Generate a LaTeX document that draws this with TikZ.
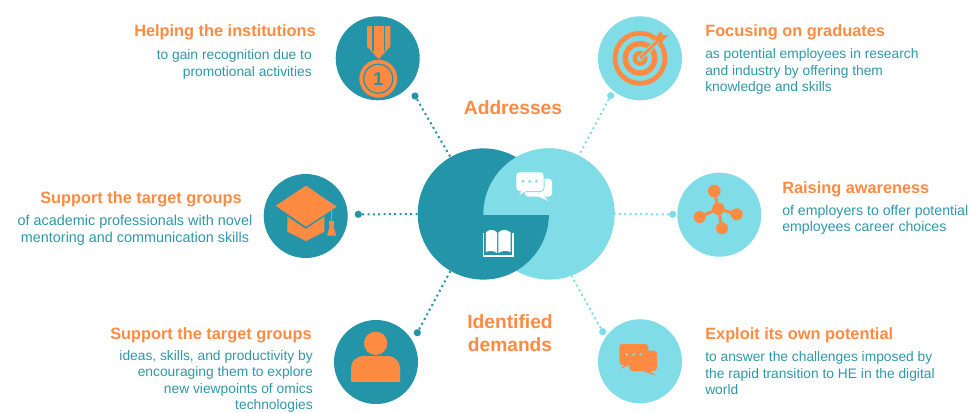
\documentclass[tikz,border=0pt]{standalone}
\usepackage{fontspec}
\setmainfont{Liberation Sans}
\definecolor{tealdark}{HTML}{2495A8}
\definecolor{teallight}{HTML}{80DCE6}
\definecolor{accent}{HTML}{FF8A42}
\definecolor{bodyteal}{HTML}{2E98A8}
\tikzset{
    maincircle/.style={circle,minimum size=98.4pt,inner sep=0pt},
    iconcircle/.style={circle,minimum size=63pt,inner sep=0pt},
    enddot/.style={circle,minimum size=5.4pt,inner sep=0pt},
    dotline/.style={line width=1.5pt,dash pattern=on 1.5pt off 2.5pt},
    titletext/.style={text=accent,font=\fontsize{12.25}{14}\selectfont\bfseries,inner sep=0pt},
    bodytext/.style={text=bodyteal,font=\fontsize{10.35}{12.4}\selectfont,inner sep=0pt},
    headtext/.style={text=accent,font=\fontsize{14.4}{17.2}\selectfont\bfseries,inner sep=0pt,align=center},
}
\begin{document}
\begin{tikzpicture}[x=0.75pt,y=-0.75pt]
    \useasboundingbox (0,0) rectangle (971,412);
    % centre
    \node[maincircle,fill=teallight] (light) at (549,214) {};
    \node[maincircle,fill=tealdark] (dark) at (483.3,214) {};
    \begin{scope}
        \clip (480,140) rectangle (620,214);
        \fill[teallight] (549,214) circle (65.6);
    \end{scope}
    % round icons
    \node[iconcircle,fill=tealdark] (medal) at (377.7,58.3) {};
    \node[iconcircle,fill=teallight] (target) at (640,58.3) {};
    \node[iconcircle,fill=tealdark] (cap) at (305.7,216) {};
    \node[iconcircle,fill=teallight] (network) at (719.3,214.7) {};
    \node[iconcircle,fill=tealdark] (person) at (376,362) {};
    \node[iconcircle,fill=teallight] (chat) at (640,361.3) {};
    % end dots
    \node[enddot,fill=tealdark] (medaldot) at (415,96) {};
    \node[enddot,fill=teallight] (targetdot) at (610.7,95.7) {};
    \node[enddot,fill=tealdark] (capdot) at (358.3,214.3) {};
    \node[enddot,fill=teallight] (networkdot) at (672.7,214.3) {};
    \node[enddot,fill=tealdark] (persondot) at (417.3,332.7) {};
    \node[enddot,fill=teallight] (chatdot) at (602.7,331.7) {};
    % connectors
    \draw[dotline,tealdark] (medaldot) -- (dark.120);
    \draw[dotline,tealdark] (capdot) -- (dark);
    \draw[dotline,tealdark] (persondot) -- (dark.240);
    \draw[dotline,teallight] (targetdot) -- (light.63);
    \draw[dotline,teallight] (networkdot) -- (light);
    \draw[dotline,teallight] (chatdot) -- (light.-70);
    % medal
    \fill[accent] (367,26) -- (390.3,26) -- (390.3,46.5) -- (378.7,59) -- (367,46.5) -- cycle;
    \fill[tealdark] (372,26) rectangle (373.7,51);
    \fill[tealdark] (383.7,26) rectangle (385.4,51);
    \fill[accent] (378.3,78.7) circle (19);
    \draw[tealdark,line width=0.9pt] (378.3,78.7) circle (14.5);
    \node[inner sep=0pt,text=tealdark,font=\fontsize{14}{14}\selectfont\bfseries] (medalnum) at (378.3,78.7) {1};
    % target
    \fill[accent] (640,58.3) circle (27.4);
    \fill[teallight] (640,58.3) circle (22.5);
    \fill[accent] (640,58.3) circle (17.5);
    \fill[teallight] (640,58.3) circle (12);
    \fill[accent] (640,58.3) circle (7.5);
    \fill[teallight] (640,58.3) circle (3);
    \draw[teallight,line width=3.6pt] (642,56.3) -- (660,38.5);
    \draw[accent,line width=2pt] (640,58.3) -- (660,38.5);
    \fill[accent] (655,38) -- (661,31) -- (662.5,35) -- (668.3,35) -- (662,42) -- (658,42.5) -- cycle;
    % graduation cap
    \fill[accent] (287.3,215.7) -- (306,228) -- (324.3,215.7) -- (324.3,231.7) -- (306,241) -- (287.3,231.7) -- cycle;
    \draw[tealdark,line width=0.9pt] (287.3,215.7) -- (306,228) -- (324.3,215.7);
    \fill[accent] (275.7,205.7) -- (306,185.7) -- (336.7,206.7) -- (306,226.7) -- cycle;
    \draw[accent,line width=0.8pt] (331.7,208) -- (331.7,222);
    \fill[accent] (329,221) rectangle (334.3,225.5);
    \fill[accent] (330,225) -- (333.3,225) -- (336,235.7) -- (327,235.7) -- cycle;
    % network
    \draw[accent,line width=2.2pt] (718.3,208.7) -- (714.3,191);
    \draw[accent,line width=2.2pt] (718.3,208.7) -- (699.7,217);
    \draw[accent,line width=2.2pt] (718.3,208.7) -- (736.7,214.3);
    \draw[accent,line width=2.2pt] (718.3,208.7) -- (722,228.3);
    \fill[accent] (718.3,208.7) circle (6.2);
    \fill[accent] (714.3,191) circle (6.3);
    \fill[accent] (699.7,217) circle (6);
    \fill[accent] (736.7,214.3) circle (6);
    \fill[accent] (722,228.3) circle (6);
    % person
    \fill[accent] (375.7,343.3) circle (11.7);
    \begin{scope}
        \clip (351,356) rectangle (400,381);
        \fill[accent,rounded corners=9pt] (351,356) rectangle (400,400);
    \end{scope}
    % orange speech bubbles
    \fill[accent,rounded corners=2.5pt] (629.3,350.7) rectangle (657,371);
    \fill[accent] (640,370) -- (656,375.7) -- (648,370) -- cycle;
    \fill[accent,rounded corners=2.5pt] (619.3,344) rectangle (648.3,365);
    \fill[accent] (632,364) -- (619.3,369) -- (626,364) -- cycle;
    \fill[teallight] (626.7,354.3) circle (1.5);
    \fill[teallight] (633.7,354.3) circle (1.5);
    \fill[teallight] (640.7,354.3) circle (1.5);
    % white speech bubbles
    \fill[white,rounded corners=2.5pt] (525,178.7) rectangle (552,196.7);
    \fill[white] (537,196) -- (548.3,201) -- (544,196) -- cycle;
    \fill[teallight,rounded corners=3pt] (515.5,171.5) rectangle (544.5,192);
    \fill[white,rounded corners=2.5pt] (516.3,172.3) rectangle (543.7,191);
    \fill[white] (528,190) -- (519.3,195) -- (522,190) -- cycle;
    \fill[teallight] (523,181.3) circle (1.6);
    \fill[teallight] (529.7,181.3) circle (1.6);
    \fill[teallight] (536.3,181.3) circle (1.6);
    % book
    \fill[white] (482.7,233) rectangle (513.7,256.7);
    \fill[tealdark] (484,232) rectangle (512.4,254.6);
    \fill[white] (485.8,232.5) .. controls (489,229) and (494,229) .. (497,232.5) -- (497,253) .. controls (494,250.5) and (489,250.5) .. (485.8,252) -- cycle;
    \fill[white] (498.4,232.5) .. controls (501.5,229) and (507,229) .. (510.6,232.5) -- (510.6,252) .. controls (507,250.5) and (501.5,250.5) .. (498.4,253) -- cycle;
    % headings
    \node[headtext] (addresses) at (513,107.5) {Addresses};
    \node[headtext] (demands) at (510,333) {Identified\\demands};
    % left side
    \node[titletext,anchor=east] (helptitle) at (316,32.5) {Helping the institutions};
    \node[bodytext,anchor=north east,align=right] (helpbody) at (312,49.5) {to gain recognition due to\\promotional activities};
    \node[titletext,anchor=east] (supporttitle) at (242,199.5) {Support the target groups};
    \node[bodytext,font=\fontsize{10.8}{12.4}\selectfont,anchor=north,align=center] (supportbody) at (135,215) {of academic professionals with novel\\mentoring and communication skills};
    \node[titletext,anchor=east] (ideastitle) at (312,335.5) {Support the target groups};
    \node[bodytext,font=\fontsize{10.35}{12.1}\selectfont,anchor=north east,align=right] (ideasbody) at (313,350.5) {ideas, skills, and productivity by\\encouraging them to explore\\new viewpoints of omics\\technologies};
    % right side
    \node[titletext,anchor=west] (focustitle) at (705,32.5) {Focusing on graduates};
    \node[bodytext,anchor=north west,align=left] (focusbody) at (705,48.5) {as potential employees in research\\and industry by offering them\\knowledge and skills};
    \node[titletext,anchor=west] (raisetitle) at (782,189.5) {Raising awareness};
    \node[bodytext,font=\fontsize{10.6}{12.4}\selectfont,anchor=north west,align=left] (raisebody) at (782,204.5) {of employers to offer potential\\employees career choices};
    \node[titletext,anchor=west] (exploittitle) at (705,335.5) {Exploit its own potential};
    \node[bodytext,anchor=north west,align=left] (exploitbody) at (705,351.5) {to answer the challenges imposed by\\the rapid transition to HE in the digital\\world};
\end{tikzpicture}
\end{document}
